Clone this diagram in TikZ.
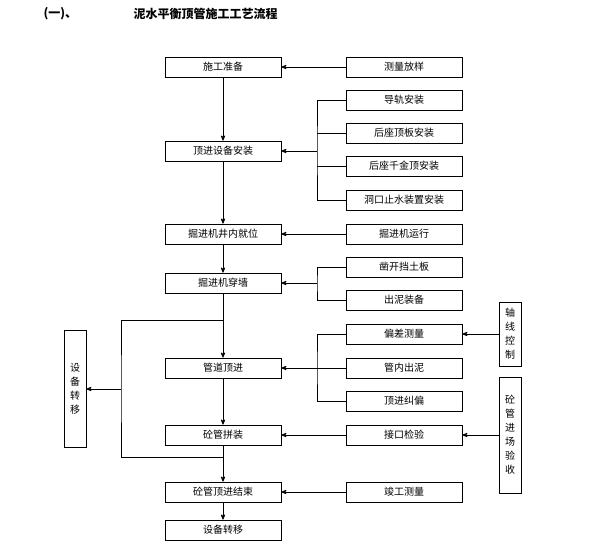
\documentclass[tikz,border=0pt]{standalone}
\usepackage{fontspec}
\newfontfamily\cjk{Noto Sans CJK SC}
\usetikzlibrary{arrows}
\tikzset{
  box/.style={draw, thick, minimum width=116pt, minimum height=20pt, inner sep=0pt, font=\cjk\fontsize{10}{10}\selectfont},
  vbox/.style={draw, thick, minimum width=22pt, inner sep=0pt, font=\cjk\fontsize{10}{14}\selectfont, align=center},
  line/.style={thick},
  arr/.style={thick, ->}
}
\begin{document}
\begin{tikzpicture}[x=1pt, y=-1pt, >=stealth']
    \useasboundingbox (0,0) rectangle (616,546);
    \node[anchor=west, font=\cjk\bfseries\fontsize{12}{12}\selectfont] (no) at (40,14) {(一)、};
    \node[anchor=west, font=\cjk\bfseries\fontsize{12}{12}\selectfont] (title) at (130,14) {泥水平衡顶管施工工艺流程};

    % main flow
    \node[box] (zb) at (223,67) {施工准备};
    \node[box] (sb) at (223,151) {顶进设备安装};
    \node[box] (jw) at (223,234) {掘进机井内就位};
    \node[box] (cq) at (223,283) {掘进机穿墙};
    \node[box] (dj) at (223,368) {管道顶进};
    \node[box] (pz) at (223,435) {砼管拼装};
    \node[box] (js) at (223,492) {砼管顶进结束};
    \node[box] (zy) at (223,530) {设备转移};

    % side tasks
    \node[box] (cl) at (404,67) {测量放样};
    \node[box] (dg) at (404,100) {导轨安装};
    \node[box] (hb) at (404,133) {后座顶板安装};
    \node[box] (hq) at (404,166) {后座千金顶安装};
    \node[box] (dk) at (404,200) {洞口止水装置安装};
    \node[box] (yx) at (404,234) {掘进机运行};
    \node[box] (zk) at (404,267) {凿开挡土板};
    \node[box] (cn) at (404,300) {出泥装备};
    \node[box] (pc) at (404,334) {偏差测量};
    \node[box] (gn) at (404,368) {管内出泥};
    \node[box] (jp) at (404,401) {顶进纠偏};
    \node[box] (jk) at (404,435) {接口检验};
    \node[box] (jg) at (404,492) {竣工测量};

    \node[vbox, minimum height=64pt] (zx) at (510,334) {轴\\线\\控\\制};
    \node[vbox, minimum height=116pt] (jc) at (510,435) {砼\\管\\进\\场\\验\\收};
    \node[vbox, minimum height=117pt] (zy2) at (75,389) {设\\备\\转\\移};

    % main arrows
    \foreach \a/\b in {zb/sb, sb/jw, jw/cq, cq/dj, dj/pz, pz/js, js/zy}
        \draw[arr] (\a) -- (\b);

    % inputs
    \foreach \a/\b in {cl/zb, yx/jw, jk/pz, jg/js, zx/pc, jc/jk}
        \draw[arr] (\a) -- (\b);
    \draw[arr] (gn) -- (dj);

    % brackets
    \draw[line] (dg.west) -| (317,151) |- (dk.west);
    \draw[line] (hb.west) -- (317,133);
    \draw[line] (hq.west) -- (317,166);
    \draw[arr] (317,151) coordinate (b1) -- (sb.east);
    \draw[line] (zk.west) -| (317,283) coordinate (b2) |- (cn.west);
    \draw[arr] (b2) -- (cq.east);
    \draw[line] (pc.west) -| (317,368) |- (jp.west);

    % equipment transfer
    \draw[line] (223,320) coordinate (t1) -| (121,389) coordinate (m1) |- (223,457) coordinate (t2);
    \draw[arr] (m1) -- (zy2.east);
\end{tikzpicture}
\end{document}
